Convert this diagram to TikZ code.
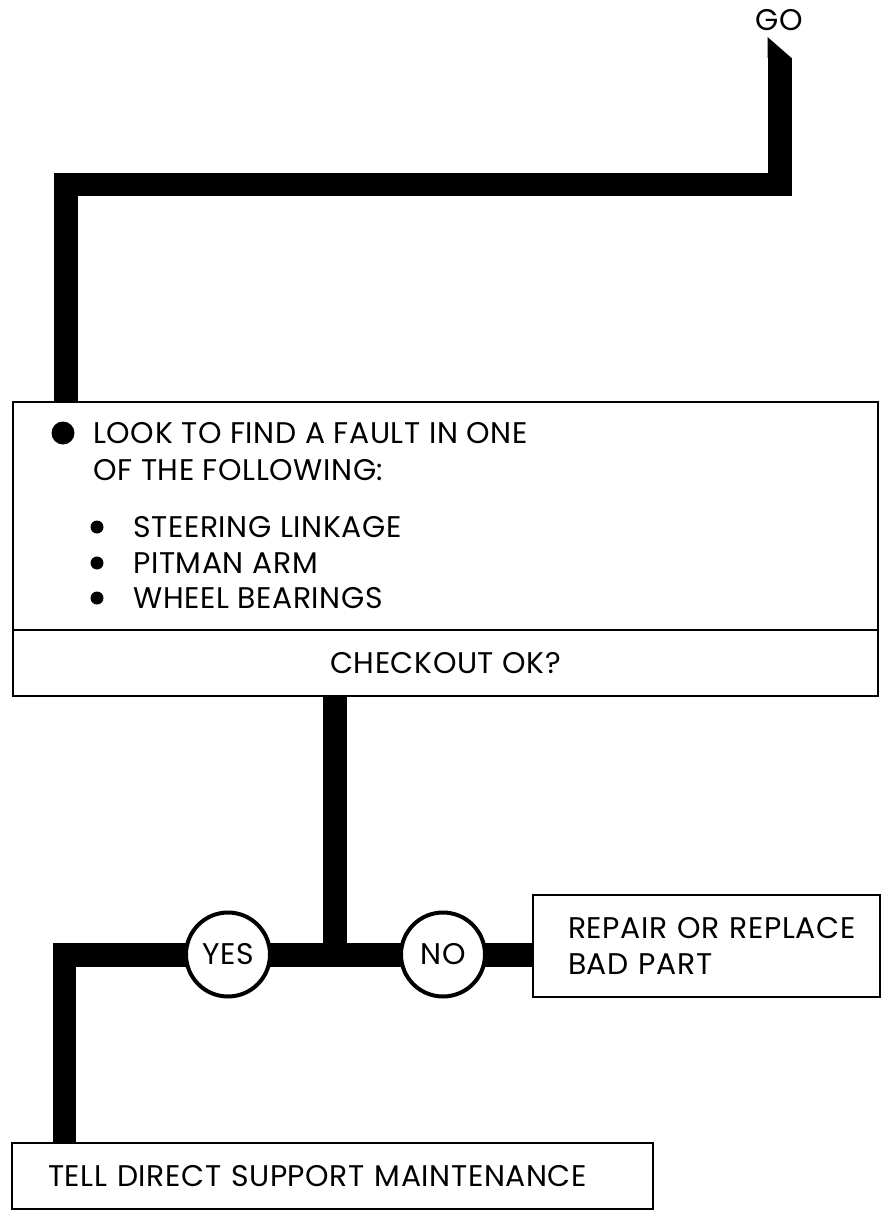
\documentclass[tikz,border=0pt]{standalone}
\usepackage{fontspec}
\setmainfont[LetterSpace=2]{Poppins}
\usetikzlibrary{backgrounds}

\begin{document}
\begin{tikzpicture}[x=0.02cm, y=-0.02cm,
    box/.style={draw, line width=0.05cm, inner sep=0pt, fill=white},
    bar/.style={line width=0.48cm, line join=miter},
    answer/.style={draw, circle, line width=0.08cm, minimum size=1.68cm, inner sep=0pt, fill=white, lbl},
    lbl/.style={font=\fontsize{17}{20}\selectfont},
    item/.style={lbl, anchor=west, inner sep=0pt},
    dot/.style={circle, fill, inner sep=0pt}]
      \useasboundingbox (0,0) rectangle (885,1213);

      \node[lbl] (go) at (779,20) {GO};
      \coordinate (gotip) at (779.5,58);
      \coordinate (topright) at (779.5,184.5);
      \coordinate (topleft) at (66,184.5);

      \node[box, minimum width=17.3cm, minimum height=4.56cm] (look) at (445.5,516) {};
      \node[box, minimum width=17.3cm, minimum height=1.32cm, lbl] (check) at (445.5,663) {CHECKOUT OK?};

      \node[dot, minimum size=0.46cm] (b0) at (63,433) {};
      \node[item] (l1) at (93,433) {LOOK TO FIND A FAULT IN ONE};
      \node[item] (l2) at (93,470) {OF THE FOLLOWING:};
      \node[dot, minimum size=0.26cm] (b1) at (97,527) {};
      \node[item] (i1) at (133,527) {STEERING LINKAGE};
      \node[dot, minimum size=0.26cm] (b2) at (97,563) {};
      \node[item] (i2) at (133,563) {PITMAN ARM};
      \node[dot, minimum size=0.26cm] (b3) at (97,598) {};
      \node[item] (i3) at (133,598) {WHEEL BEARINGS};

      \coordinate (junction) at (335,954.5);
      \coordinate (lcorner) at (64.5,954.5);
      \node[answer] (yes) at (228,954.5) {YES};
      \node[answer] (no) at (443,954.5) {NO};

      \node[box, lbl, minimum width=6.94cm, minimum height=2.04cm, text width=5.54cm, inner xsep=0.7cm, align=left] (repair) at (706.5,946) {\mbox{REPAIR OR REPLACE}\\BAD PART};
      \node[box, lbl, minimum width=12.82cm, minimum height=1.32cm, text width=11.38cm, inner xsep=0.72cm, align=left] (tell) at (332.5,1176) {\mbox{TELL DIRECT SUPPORT MAINTENANCE}};

      \begin{scope}[on background layer]
        \draw[bar] (gotip) -- (topright) -- (topleft) -- (topleft |- look.center);
        \fill (gotip) ++(-12,-21) -- ++(0,21) -- ++(24,0) -- cycle;
        \draw[bar] (check.center -| junction) -- (junction);
        \draw[bar] (yes.center) -- (junction);
        \draw[bar] (junction) -- (no.center);
        \draw[bar] (no.center) -- (no.center -| repair.center);
        \draw[bar] (yes.center) -- (lcorner) -- (lcorner |- tell.center);
      \end{scope}
    \end{tikzpicture}
\end{document}
